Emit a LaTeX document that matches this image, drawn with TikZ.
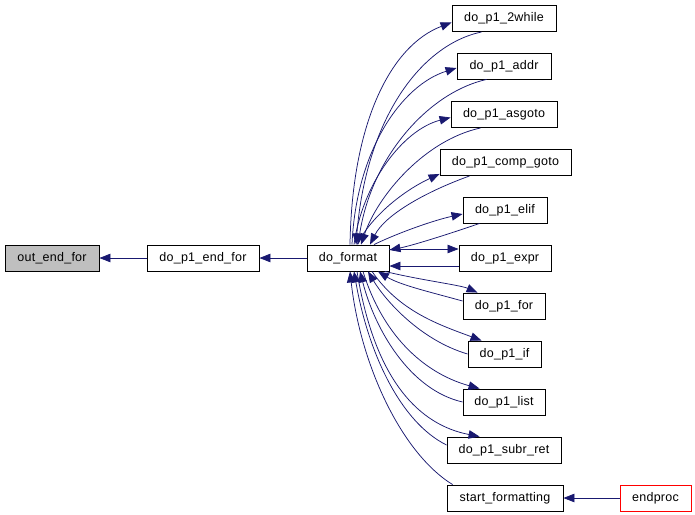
\documentclass[tikz,border=0pt]{standalone}
\usepackage{fontspec}
\setmainfont[LetterSpace=2]{Liberation Sans}
\usetikzlibrary{arrows.meta}
\definecolor{edgeblue}{HTML}{191970}
\definecolor{hlgray}{HTML}{BFBFBF}
\tikzset{
  fn/.style={draw=black, fill=white, line width=0.9pt, inner sep=0pt, minimum height=26pt, font=\fontsize{12.5}{14}\selectfont},
  edge/.style={draw=edgeblue, line width=0.75pt, -{Triangle[length=11pt,width=8.5pt]}},
}
\begin{document}
\begin{tikzpicture}[x=1pt,y=-1pt]
\useasboundingbox (0,0) rectangle (695,514);
% nodes
\node[fn, fill=hlgray, minimum width=94pt] (oef) at (52,258) {out\_end\_for};
\node[fn, minimum width=112pt] (def) at (203,258) {do\_p1\_end\_for};
\node[fn, minimum width=82pt] (fmt) at (348,258) {do\_format};
\node[fn, minimum width=104pt] (w2) at (504,18.5) {do\_p1\_2while};
\node[fn, minimum width=94pt] (addr) at (504,66) {do\_p1\_addr};
\node[fn, minimum width=106pt] (asg) at (504,114.5) {do\_p1\_asgoto};
\node[fn, minimum width=131pt] (cg) at (505.5,162.5) {do\_p1\_comp\_goto};
\node[fn, minimum width=84pt] (elif) at (505,210) {do\_p1\_elif};
\node[fn, minimum width=92pt] (expr) at (505,258) {do\_p1\_expr};
\node[fn, minimum width=82pt] (for) at (504,306) {do\_p1\_for};
\node[fn, minimum width=73pt] (if) at (504.5,354) {do\_p1\_if};
\node[fn, minimum width=82pt] (list) at (504,402) {do\_p1\_list};
\node[fn, minimum width=114pt] (subr) at (504,450) {do\_p1\_subr\_ret};
\node[fn, minimum width=116pt] (start) at (505,498) {start\_formatting};
\node[fn, draw=red, minimum width=71pt] (endp) at (655.5,498) {endproc};
% straight edges
\draw[edge] (def) -- (oef);
\draw[edge] (fmt) -- (def);
\draw[edge] (endp) -- (start);
% upper nodes
\draw[edge] ([xshift=2pt]fmt.north) .. controls (352,120) and (392,45) .. ([yshift=-4pt]w2.west);
\draw[edge] ([xshift=30pt]w2.south west) .. controls (420,45) and (366,120) .. ([xshift=8pt]fmt.north);
\draw[edge] ([xshift=4pt]fmt.north) .. controls (356,150) and (402,85) .. ([yshift=-2pt]addr.west);
\draw[edge] ([xshift=30pt]addr.south west) .. controls (430,92) and (372,155) .. ([xshift=10pt]fmt.north);
\draw[edge] ([xshift=6pt]fmt.north) .. controls (362,185) and (402,130) .. ([yshift=-3pt]asg.west);
\draw[edge] ([xshift=30pt]asg.south west) .. controls (425,140) and (378,195) .. ([xshift=13pt]fmt.north);
\draw[edge] ([xshift=9pt]fmt.north) .. controls (372,215) and (405,190) .. ([yshift=2pt]cg.south west);
\draw[edge] ([xshift=30pt]cg.south west) .. controls (425,192) and (385,215) .. ([xshift=22pt]fmt.north);
\draw[edge] ([xshift=26pt]fmt.north) .. controls (400,232) and (435,220) .. ([yshift=-4pt]elif.west);
\draw[edge] ([xshift=17pt]elif.south west) .. controls (440,237) and (410,246) .. ([yshift=8pt]fmt.east);
% expr
\draw[edge] ([yshift=9pt]fmt.east) -- ([yshift=9pt]expr.west);
\draw[edge] ([yshift=-8pt]expr.west) -- ([yshift=-8pt]fmt.east);
% lower nodes
\draw[edge] ([xshift=37pt]fmt.south) .. controls (420,280) and (460,285) .. ([xshift=15pt]for.north west);
\draw[edge] ([yshift=5pt]for.west) .. controls (430,292) and (400,285) .. ([xshift=30pt]fmt.south);
\draw[edge] ([xshift=24pt]fmt.south) .. controls (400,312) and (440,325) .. ([xshift=14pt]if.north west);
\draw[edge] (if.west) .. controls (420,340) and (385,300) .. ([xshift=20pt]fmt.south);
\draw[edge] ([xshift=15pt]fmt.south) .. controls (385,342) and (430,375) .. ([xshift=17pt]list.north west);
\draw[edge] (list.west) .. controls (410,390) and (375,330) .. ([xshift=12pt]fmt.south);
\draw[edge] ([xshift=9pt]fmt.south) .. controls (375,382) and (420,425) .. ([xshift=33pt]subr.north west);
\draw[edge] ([yshift=5pt]subr.west) .. controls (400,422) and (368,352) .. ([xshift=6pt]fmt.south);
\draw[edge] ([xshift=6pt]start.north west) .. controls (400,452) and (360,362) .. ([xshift=2pt]fmt.south);
\end{tikzpicture}
\end{document}
